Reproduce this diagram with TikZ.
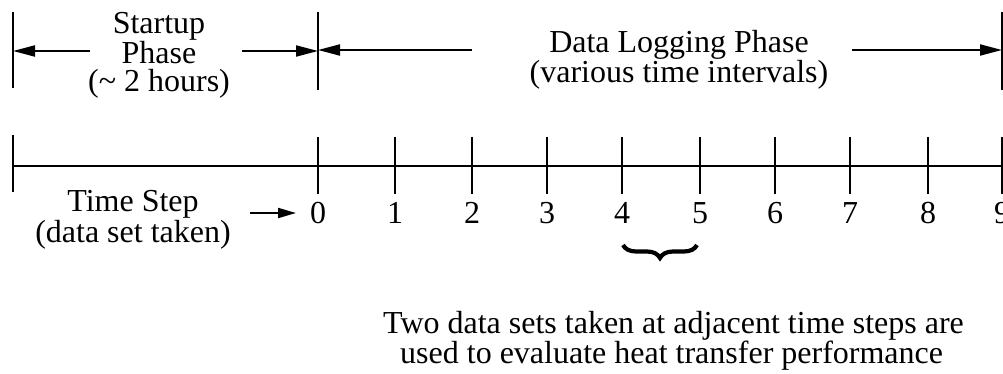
\documentclass[tikz,border=0pt]{standalone}
\usepackage{fontspec}
\setmainfont{Liberation Serif}
\usetikzlibrary{arrows.meta,decorations.pathreplacing}
\begin{document}
\begin{tikzpicture}[x=1pt,y=-1pt,
  bar/.style={line width=2.8pt},
  arr/.style={line width=2pt,-{Triangle[length=22pt,width=11pt]}},
  sarr/.style={line width=2pt,-{Triangle[length=18pt,width=10pt]}},
  lbl/.style={inner sep=0pt,anchor=base,font=\fontsize{32}{38}\selectfont},
  block/.style={inner sep=0pt,align=center},
  bracestyle/.style={decorate,decoration={brace,mirror,amplitude=13pt},line width=4.2pt}]
\useasboundingbox (0,0) rectangle (1003,374);
\clip (0,0) rectangle (1003,374);

% top bars
\coordinate (b0t) at (13,12);   \coordinate (b0b) at (13,88);
\coordinate (b1t) at (318,12);  \coordinate (b1b) at (318,90);
\coordinate (b2t) at (1002,12); \coordinate (b2b) at (1002,90);
\draw[bar] (b0t) -- (b0b);
\draw[bar] (b1t) -- (b1b);
\draw[bar] (b2t) -- (b2b);

% phase labels (base = baseline of last line)
\node[block,anchor=base,font=\fontsize{32}{28.5}\selectfont] (st) at (159,92)
  {Startup\\Phase\\(\textasciitilde{} 2 hours)};
\node[block,anchor=base,font=\fontsize{32}{26}\selectfont] (dl) at (679,83)
  {Data Logging Phase\\(various time intervals)};

% phase arrows
\coordinate (sa) at (90,51);  \coordinate (sb) at (242,51);
\coordinate (da) at (472,50); \coordinate (db) at (852,50);
\draw[arr] (sa) -- (b0t |- sa);
\draw[arr] (sb) -- (b1t |- sb);
\draw[arr] (da) -- (b1t |- da);
\draw[arr] (db) -- (b2t |- db);

% timeline
\coordinate (l0) at (13,166);
\coordinate (l9) at (1002,166);
\draw[bar] (l0) -- (l9);
\coordinate (lt) at (13,135); \coordinate (lb) at (13,192);
\draw[bar] (lt) -- (lb);
\foreach \x/\n in {318/0,395/1,472/2,547/3,622/4,700/5,775/6,850/7,928/8,1002/9}{
  \coordinate (kt\n) at (\x,137);
  \coordinate (kb\n) at (\x,194);
  \draw[bar] (kt\n) -- (kb\n);
  \node[lbl] (n\n) at (\x,223) {\n};
}

% time step label
\node[block,anchor=base,font=\fontsize{32}{25}\selectfont] (ts) at (133,242)
  {Time Step\\(data set taken)};
\coordinate (ta) at (250,213); \coordinate (tb) at (296,213);
\draw[sarr] (ta) -- (tb);

% brace
\coordinate (br1) at (623,245); \coordinate (br2) at (697,245);
\draw[bracestyle] (br1) -- (br2);

% bottom text
\node[inner sep=0pt,align=left,anchor=base west,font=\fontsize{32}{30}\selectfont] (bt) at (383,363)
  {Two data sets taken at adjacent time steps are\\\hspace*{17pt}used to evaluate heat transfer performance};
\end{tikzpicture}
\end{document}
